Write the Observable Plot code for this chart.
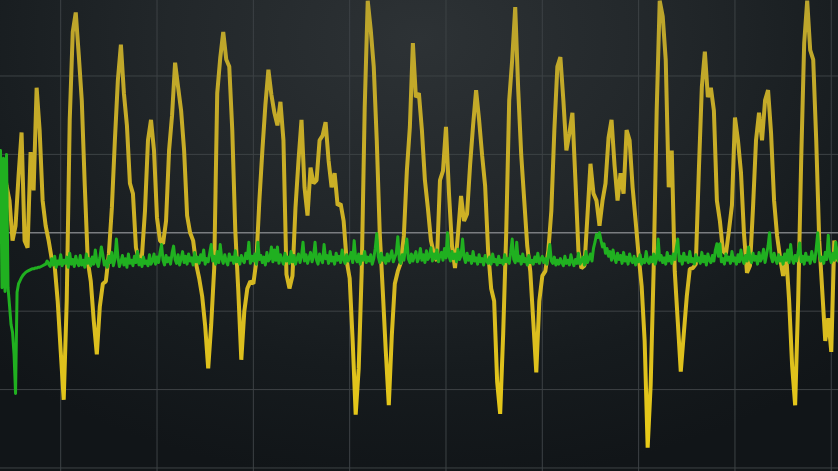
<!DOCTYPE html>
<html><head><meta charset="utf-8">
<script src="https://cdn.jsdelivr.net/npm/d3@7"></script>
<script src="https://cdn.jsdelivr.net/npm/@observablehq/plot@0.6"></script>
<style>
html,body{margin:0;padding:0;background:#131719;}
#chart{width:838px;height:471px;overflow:hidden;
background:radial-gradient(ellipse 75% 95% at 50% 8%, #2d3235 0%, #22272a 40%, #161b1e 75%, #111518 100%);}
#chart svg{display:block;background:transparent;}
</style></head><body><div id="chart"></div>
<script>
// Yellow signal: one value per sample (amplitude in grid units)
const yellow = [
0.73,0.86,0.60,0.41,-0.10,0.09,0.73,1.28,-0.10,-0.19,
1.03,0.54,1.85,1.31,0.41,0.09,-0.10,-0.33,-0.42,-0.87,
-1.51,-2.13,-0.87,1.44,2.56,2.81,2.27,1.69,0.60,-0.36,
-0.62,-1.13,-1.55,-0.94,-0.65,-0.62,-0.27,0.32,1.18,1.95,
2.40,1.78,1.37,0.63,0.50,-0.19,-0.36,-0.29,0.28,1.18,
1.44,1.05,0.19,-0.10,-0.14,0.15,1.05,1.50,2.17,1.86,
1.56,1.05,0.22,0.00,-0.10,-0.40,-0.58,-0.81,-1.19,-1.73,
-1.17,-0.45,1.78,2.23,2.56,2.21,2.12,1.31,0.03,-0.74,
-1.62,-1.00,-0.71,-0.62,-0.65,-0.36,0.41,1.05,1.63,2.08,
1.76,1.53,1.37,1.67,1.18,-0.53,-0.71,-0.55,0.32,0.92,
1.44,0.58,0.22,0.83,0.63,0.67,1.18,1.24,1.41,0.92,
0.58,0.76,0.35,0.37,0.15,-0.36,-0.58,-1.38,-2.32,-1.73,
-0.49,1.60,2.96,2.59,2.12,1.18,-0.01,-0.74,-1.51,-2.20,
-1.31,-0.65,-0.49,-0.38,-0.04,0.79,1.35,2.42,1.73,1.78,
1.31,0.67,0.31,-0.10,-0.27,-0.36,0.67,0.79,1.35,0.50,
-0.17,-0.45,-0.01,0.47,0.15,0.24,0.86,1.37,1.82,1.44,
0.99,0.60,-0.23,-0.71,-0.87,-1.90,-2.31,-1.29,-0.01,1.69,
2.21,2.88,1.82,0.99,0.41,-0.17,-0.49,-1.13,-1.78,-0.87,
-0.55,-0.49,-0.23,0.28,1.31,2.12,2.24,1.69,1.05,1.27,
1.53,0.67,-0.23,-0.45,-0.42,0.22,0.88,0.50,0.41,0.09,
0.41,0.63,1.21,1.44,0.86,0.41,0.76,0.50,1.31,1.18,
0.58,0.15,-0.29,-0.68,-1.38,-2.74,-1.94,-0.45,1.56,2.96,
2.76,2.21,0.58,1.05,-0.49,-1.13,-1.77,-1.29,-0.81,-0.46,
-0.45,-0.40,0.79,1.86,2.31,1.73,1.85,1.56,0.41,0.15,
-0.23,-0.27,0.03,0.35,1.47,1.18,0.77,-0.01,-0.51,-0.42,
0.32,1.18,1.53,1.18,1.69,1.82,1.27,0.41,-0.04,-0.32,
-0.55,-0.27,-0.87,-1.70,-2.20,-0.87,0.92,2.42,2.96,2.33,
2.21,1.18,-0.10,-0.74,-1.38,-1.09,-1.52,-0.10,-0.36,-0.23
];
// Green signal: two values per yellow sample
const green = [
1.05,-0.70,0.95,-0.75,1.00,-0.70,-0.93,-1.17,-1.27,-1.55,-2.05,-0.76,-0.65,-0.61,-0.57,-0.54,-0.52,
-0.50,-0.49,-0.48,-0.47,-0.46,-0.46,-0.45,-0.45,-0.44,-0.44,-0.43,-0.42,-0.41,-0.40,-0.36,-0.40,
-0.43,-0.33,-0.41,-0.30,-0.44,-0.36,-0.40,-0.28,-0.42,-0.35,
-0.39,-0.31,-0.44,-0.26,-0.40,-0.34,-0.43,-0.30,-0.38,-0.42,
-0.29,-0.41,-0.35,-0.44,-0.27,-0.39,-0.33,-0.42,-0.31,-0.40,
-0.22,-0.37,-0.43,-0.32,-0.18,-0.28,-0.41,-0.36,-0.44,-0.30,
-0.38,-0.25,-0.42,-0.34,-0.08,-0.31,-0.43,-0.37,-0.29,-0.41,
-0.33,-0.44,-0.27,-0.39,-0.35,-0.42,-0.30,-0.38,-0.24,-0.41,
-0.34,-0.43,-0.31,-0.39,-0.36,-0.42,-0.28,-0.40,
-0.36,-0.27,-0.40,-0.31,-0.38,-0.25,-0.15,-0.35,-0.41,-0.29,
-0.37,-0.32,-0.40,-0.26,-0.17,-0.34,-0.39,-0.28,-0.41,-0.33,
-0.24,-0.38,-0.30,-0.40,-0.27,-0.36,-0.32,-0.41,-0.25,-0.37,
-0.31,-0.39,-0.28,-0.35,-0.22,-0.40,-0.33,-0.37,-0.26,-0.15,
-0.36,-0.30,-0.40,-0.24,-0.38,-0.15,-0.33,-0.39,-0.28,-0.36,
-0.41,-0.27,-0.35,-0.31,-0.39,-0.23,-0.37,-0.32,-0.40,-0.29,
-0.35,-0.38,-0.26,-0.33,-0.12,-0.39,-0.30,-0.36,-0.27,-0.40,
-0.12,-0.34,-0.29,-0.38,-0.31,-0.41,-0.25,-0.36,-0.33,-0.18,
-0.37,-0.22,-0.35,-0.18,-0.39,-0.28,-0.34,-0.40,-0.26,-0.36,
-0.31,-0.39,-0.24,-0.37,-0.29,-0.40,-0.33,-0.27,-0.38,-0.30,
-0.12,-0.36,-0.28,-0.39,-0.32,-0.25,-0.37,-0.30,-0.12,-0.35,
-0.40,-0.27,-0.34,-0.38,-0.15,-0.33,-0.29,-0.39,-0.24,-0.36,
-0.31,-0.40,-0.26,-0.35,-0.30,-0.38,-0.22,-0.34,-0.39,-0.28,
-0.36,-0.32,-0.25,-0.38,-0.10,-0.33,-0.37,-0.27,-0.40,-0.30,
-0.35,-0.24,-0.38,-0.31,-0.36,-0.28,-0.40,-0.33,-0.20,-0.01,
-0.30,-0.38,-0.26,-0.35,-0.32,-0.39,-0.27,-0.36,-0.30,-0.23,
-0.37,-0.31,-0.26,-0.05,-0.34,-0.39,-0.28,-0.35,-0.22,-0.08,
-0.33,-0.38,-0.27,-0.36,-0.30,-0.24,-0.37,-0.32,-0.20,-0.35,
-0.28,-0.38,-0.23,-0.34,-0.30,-0.19,-0.36,-0.27,-0.33,-0.22,
-0.37,-0.29,-0.25,-0.35,-0.20,-0.32,0.00,-0.30,-0.36,-0.24,
-0.33,-0.27,-0.37,-0.21,-0.34,-0.29,-0.08,-0.31,-0.38,-0.26,
-0.35,-0.30,-0.39,-0.24,-0.36,-0.32,-0.40,-0.28,-0.37,-0.33,
-0.41,-0.29,-0.36,-0.39,-0.31,-0.40,-0.27,-0.37,-0.34,-0.41,
-0.30,-0.38,-0.35,-0.40,-0.28,-0.37,-0.33,-0.39,-0.25,-0.08,
-0.34,-0.38,-0.12,-0.36,-0.30,-0.40,-0.27,-0.37,-0.33,-0.41,
-0.29,-0.38,-0.35,-0.40,-0.31,-0.37,-0.26,-0.39,-0.34,-0.30,
-0.38,-0.33,-0.40,-0.28,-0.15,-0.36,-0.39,-0.31,-0.41,-0.35,
-0.40,-0.33,-0.38,-0.42,-0.30,-0.39,-0.35,-0.41,-0.28,-0.37,
-0.42,-0.34,-0.39,-0.26,-0.40,-0.36,-0.31,-0.41,-0.24,-0.38,
-0.33,-0.27,-0.36,-0.20,-0.12,-0.02,-0.06,0.00,-0.10,-0.18,
-0.14,-0.26,-0.20,-0.30,-0.24,-0.35,-0.22,-0.32,-0.38,-0.26,
-0.34,-0.29,-0.39,-0.25,-0.36,-0.31,-0.40,-0.27,-0.35,-0.38,
-0.30,-0.41,-0.33,-0.37,-0.28,-0.40,-0.34,-0.38,-0.24,-0.36,
-0.39,-0.31,-0.37,-0.27,-0.40,-0.33,-0.08,-0.35,-0.29,-0.38,
-0.32,-0.40,-0.25,-0.36,-0.30,-0.39,-0.27,-0.34,-0.20,-0.08,
-0.36,-0.30,-0.40,-0.26,-0.35,-0.31,-0.38,-0.24,-0.37,-0.33,
-0.40,-0.28,-0.36,-0.32,-0.39,-0.25,-0.37,-0.30,-0.41,-0.27,
-0.35,-0.38,-0.29,-0.36,-0.22,-0.14,-0.30,-0.14,-0.37,-0.33,
-0.40,-0.27,-0.35,-0.31,-0.39,-0.24,-0.36,-0.32,-0.40,-0.28,
-0.37,-0.22,-0.34,-0.39,-0.29,-0.36,-0.18,-0.33,-0.38,-0.26,
-0.35,-0.30,-0.40,-0.25,-0.36,-0.32,-0.21,-0.38,-0.28,-0.17,
0.00,-0.30,-0.37,-0.26,-0.34,-0.39,-0.28,-0.36,-0.31,-0.40,
-0.27,-0.35,-0.22,-0.38,-0.15,-0.33,-0.39,-0.29,-0.36,-0.24,
-0.13,-0.37,-0.30,-0.40,-0.26,-0.35,-0.31,-0.39,-0.24,-0.33,
-0.37,-0.20,0.00,-0.28,-0.36,-0.31,-0.39,-0.25,-0.34,-0.03,
-0.30,-0.38,-0.26,-0.35,-0.12,-0.32,-0.37,-0.29
];
const greenPerSample = 2;
const xTicks = [20, 52, 84, 116, 148, 180, 212, 244, 276];
const yTicks = [-3, -2, -1, 1, 2, 3];
const xDomain = [0, 278.4];
const yDomain = [-3.045, 2.963];

const yellowData = yellow.map((v, i) => ({t: i, v}));
const greenData = green.map((v, i) => ({t: i / greenPerSample, v}));

const chart = Plot.plot({
  width: 838, height: 471, margin: 0,
  x: {domain: xDomain, axis: null},
  y: {domain: yDomain, axis: null},
  style: {background: "transparent", overflow: "hidden"},
  marks: [
    Plot.ruleX(xTicks, {stroke: "#3d4245", strokeWidth: 1}),
    Plot.ruleY(yTicks, {stroke: "#3d4245", strokeWidth: 1}),
    Plot.ruleY([0], {stroke: "#7a7d80", strokeWidth: 1.5}),
    Plot.lineY(yellowData, {x: "t", y: "v", stroke: "url(#ygrad)", strokeWidth: 4, strokeLinejoin: "miter"}),
    Plot.lineY(greenData, {x: "t", y: "v", stroke: "#20b020", strokeWidth: 3})
  ]
});
const defs = d3.select(chart).insert("defs", ":first-child");
const g = defs.append("linearGradient").attr("id", "ygrad")
  .attr("gradientUnits", "userSpaceOnUse").attr("x1", 0).attr("y1", 0).attr("x2", 0).attr("y2", 471);
g.append("stop").attr("offset", "0%").attr("stop-color", "#bba42c");
g.append("stop").attr("offset", "50%").attr("stop-color", "#cfb224");
g.append("stop").attr("offset", "100%").attr("stop-color", "#ecce16");
document.getElementById("chart").appendChild(chart);
</script>
</body></html>
